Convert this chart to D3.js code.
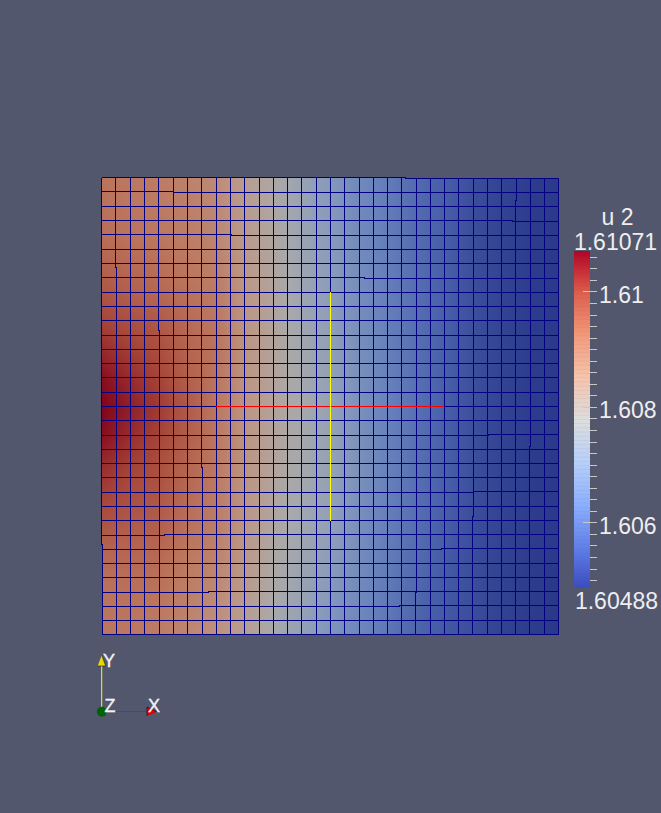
<!DOCTYPE html>
<html><head><meta charset="utf-8">
<style>html,body{margin:0;padding:0;background:#52576e;overflow:hidden}svg{display:block}text{font-family:"Liberation Sans",Arial,sans-serif;fill:#eeeeee}</style>
<script src="https://cdn.jsdelivr.net/npm/d3@7"></script>
</head><body><svg id="c" width="661" height="813"></svg>
<script>
// u 2 at mesh nodes, in units of 1e-5 above 1.6 (rows top to bottom)
const u2Rows = [
[931,926,922,918,914,908,902,892,882,857,832,811,791,765,739,718,698,674,651,636,622,604,587,574,561,545,529,520,511,504,497,493,490],
[932,928,924,920,916,910,904,894,884,859,834,813,792,766,740,719,699,675,652,637,622,604,587,574,561,545,529,520,511,504,497,493,490],
[934,930,926,922,919,912,906,896,886,861,836,815,794,768,742,721,701,677,653,638,623,605,588,575,562,545,529,520,511,504,497,493,490],
[937,932,928,924,922,915,909,899,889,863,838,816,795,769,743,722,702,678,654,639,623,605,588,575,562,545,529,520,511,504,497,493,490],
[940,935,930,927,925,918,912,902,892,866,840,818,797,771,745,724,704,680,656,640,624,606,589,575,562,546,530,520,511,504,497,493,490],
[947,942,937,933,930,923,917,907,898,871,843,821,799,773,747,726,706,682,658,641,625,607,590,576,562,546,530,520,511,504,497,493,490],
[954,949,945,940,936,929,922,913,905,876,847,824,801,775,749,728,708,684,660,643,626,608,591,577,563,547,531,521,511,504,497,493,490],
[966,959,952,947,942,935,928,919,912,881,851,827,803,777,751,730,710,685,661,644,627,609,592,577,563,547,531,521,511,504,497,493,490],
[978,969,960,954,949,941,934,926,919,887,855,830,806,779,753,732,712,687,663,645,628,610,593,578,564,548,532,521,511,504,497,493,490],
[989,981,972,965,959,949,939,930,922,889,856,831,806,780,755,734,714,689,664,646,629,611,593,578,564,548,532,521,511,504,497,493,490],
[1001,993,985,977,970,957,944,934,925,891,858,832,807,782,758,737,716,691,666,648,630,612,594,579,564,548,532,521,511,504,497,493,490],
[1015,1005,996,987,979,964,949,938,928,893,859,833,808,783,760,739,718,693,667,649,630,612,595,579,564,548,532,521,511,504,497,493,490],
[1030,1018,1007,998,989,971,954,942,931,896,861,835,809,785,762,741,721,695,669,650,631,613,596,580,564,548,532,521,511,504,497,493,490],
[1044,1030,1017,1006,995,976,958,943,930,895,861,835,809,786,765,744,724,697,670,651,632,613,596,580,564,548,532,521,511,504,497,493,490],
[1059,1043,1028,1015,1002,982,962,945,929,895,861,835,809,788,768,747,727,699,672,652,632,614,597,580,564,548,532,521,511,504,497,493,490],
[1067,1051,1036,1022,1008,987,967,947,927,894,861,835,809,790,771,750,730,701,673,653,633,615,598,581,564,548,532,521,511,504,497,493,490],
[1071,1056,1042,1027,1013,992,972,948,925,893,861,835,809,791,774,753,733,704,675,654,634,616,599,581,564,548,532,521,511,504,497,493,490],
[1067,1051,1036,1022,1008,988,968,946,925,893,861,835,809,790,772,752,733,704,675,654,634,616,598,581,564,548,532,521,511,504,497,493,490],
[1059,1043,1028,1015,1002,983,964,944,925,893,861,835,809,790,771,752,733,704,675,654,634,616,598,581,564,548,532,521,511,504,497,493,490],
[1045,1031,1018,1007,996,977,959,941,924,892,861,835,809,789,770,751,733,704,675,654,634,615,597,580,564,548,532,521,511,504,497,493,490],
[1030,1018,1007,998,989,971,954,938,922,891,861,835,809,788,768,750,733,704,675,654,634,615,596,580,564,548,532,521,511,504,497,493,490],
[1018,1008,998,991,984,966,950,935,920,890,859,832,806,786,767,749,731,702,673,652,632,614,595,579,564,548,532,521,511,504,497,493,490],
[1007,998,990,984,978,962,946,932,918,888,858,830,803,784,765,747,730,701,672,651,631,613,595,579,563,547,531,521,511,504,497,493,490],
[996,988,981,976,972,956,941,928,916,886,856,828,800,781,763,745,728,699,670,649,629,611,594,578,562,546,530,520,511,504,497,493,490],
[984,978,972,969,966,951,937,925,914,884,855,826,797,779,762,744,727,698,669,648,628,610,593,577,561,545,529,520,511,504,497,493,490],
[969,965,962,960,958,944,931,919,908,880,852,823,794,775,758,740,721,693,666,645,626,608,591,575,559,544,529,519,510,503,497,493,490],
[954,953,953,951,950,937,925,913,902,876,850,820,791,772,754,735,716,689,663,643,624,606,589,573,558,543,529,519,510,503,497,493,490],
[945,945,946,945,943,931,919,907,896,871,847,817,788,768,749,729,710,684,660,640,621,603,586,571,556,542,529,518,509,502,497,493,490],
[937,938,940,938,937,925,914,902,890,867,844,814,785,765,745,724,704,680,657,638,619,601,584,569,555,542,529,518,508,502,497,493,489],
[933,934,935,933,931,919,908,895,883,861,839,810,782,761,740,719,699,676,654,635,617,599,582,567,554,541,529,518,508,502,497,493,489],
[930,930,931,928,925,913,902,889,877,856,835,807,780,758,736,715,695,673,651,633,615,597,580,566,553,541,529,518,508,502,497,493,489],
[929,927,926,923,919,907,896,883,870,850,830,803,777,754,731,710,690,669,648,630,612,594,577,564,552,540,529,518,508,502,497,493,489],
[928,925,922,918,914,902,890,877,864,845,826,800,774,750,727,706,686,665,645,627,610,592,575,563,552,540,529,518,508,502,497,493,489]
];
const u2Min = 1.60488, u2Max = 1.61071;
const majorTicks = [1.61, 1.608, 1.606];
const minorTicks = [1.6106,1.6104,1.6102,1.6098,1.6096,1.6094,1.6092,1.609,1.6088,1.6086,1.6084,1.6082,1.6078,1.6076,1.6074,1.6072,1.607,1.6068,1.6066,1.6064,1.6062,1.6058,1.6056,1.6054,1.6052,1.605];
const majorLabels = ["1.61","1.608","1.606"];
const coolWarm = ["#3b4cc0","#6282ea","#8db0fe","#b8d0f9","#dddddd","#f5c4ad","#f49a7b","#de604d","#b40426"];
const lit = [0.72,0.72,0.74,0.75,0.77,0.77,0.77,0.75,0.72];

const svg = d3.select("#c");
svg.append("rect").attr("width",661).attr("height",813).attr("fill","#52576e");
const defs = svg.append("defs");
const value = v => 1.6 + v*1e-5;
const t = d3.scaleLinear().domain([u2Min,u2Max]).range([0,1]).clamp(true);
const stops = coolWarm.map((_,i)=>i/(coolWarm.length-1));
const ramp = d3.scaleLinear().domain(stops).range(coolWarm).interpolate(d3.interpolateRgb);
const litRamp = d3.scaleLinear().domain(stops).range(coolWarm.map((c,i)=>{const r=d3.rgb(c);return d3.rgb(r.r*lit[i],r.g*lit[i],r.b*lit[i]).formatRgb();})).interpolate(d3.interpolateRgb);
const barColor = v => ramp(t(v));
const meshColor = v => litRamp(t(v));

const nCols = u2Rows[0].length-1, nRows = u2Rows.length-1;
const x = d3.scaleLinear().domain([0,nCols]).range([101.6,558.4]);
const y = d3.scaleLinear().domain([0,nRows]).range([177.56,634.36]);
const px = d3.range(nCols+1).map(i=>Math.round(x(i)));
const py = d3.range(nRows+1).map(j=>Math.round(y(j)));

// shaded cells
const mesh = svg.append("g");
d3.range(nRows).forEach(j=>d3.range(nCols).forEach(i=>{
  const k=j*nCols+i;
  const a=u2Rows[j][i],b=u2Rows[j][i+1],c=u2Rows[j+1][i],d=u2Rows[j+1][i+1];
  const dx=((b+d)-(a+c))/2, dy=((c+d)-(a+b))/2, m=(a+b+c+d)/4, n=dx*dx+dy*dy||1;
  const x0=dx>=0?0:1, y0=dy>=0?0:1;
  const lo=m-Math.abs(dx)/2-Math.abs(dy)/2, hi=m+Math.abs(dx)/2+Math.abs(dy)/2;
  const g=defs.append("linearGradient").attr("id","g"+k)
    .attr("x1",x0).attr("y1",y0)
    .attr("x2",x0+dx*(hi-lo)/n).attr("y2",y0+dy*(hi-lo)/n);
  g.append("stop").attr("offset",0).attr("stop-color",meshColor(value(lo)));
  g.append("stop").attr("offset",1).attr("stop-color",meshColor(value(hi)));
  mesh.append("rect").attr("x",px[i]).attr("y",py[j])
    .attr("width",px[i+1]-px[i]+1).attr("height",py[j+1]-py[j]+1)
    .attr("fill",`url(#g${k})`).attr("shape-rendering","crispEdges");
}));

// mesh edges: the wireframe is pixel-snapped and jumps one pixel at a few places
const rowJogs = [[0,405,"l",-1],[1,173,"l",-1],[3,512,"r",1],[4,231,"l",-1],[7,364,"r",1],[18,488,"r",-1],[22,473,"r",-1],[25,164,"l",1],[26,441,"r",-1],[29,208,"r",-1],[30,399,"r",-1]];
const colJogs = [[0,544,"a",-1],[1,267,"a",-1],[4,330,"a",-1],[7,467,"a",-1],[22,592,"b",-1],[26,516,"b",-1],[29,200,"b",-1],[30,446,"b",-1]];
const edges = svg.append("g").attr("stroke","#000080").attr("stroke-width",1).attr("shape-rendering","crispEdges").attr("fill","none");
px.forEach((v,i)=>{
  const jog=colJogs.find(q=>q[0]===i);
  if(!jog){edges.append("line").attr("x1",v+.5).attr("x2",v+.5).attr("y1",py[0]).attr("y2",py[nRows]+1);return;}
  const up=jog[2]==="a"?jog[3]:0, dn=jog[2]==="b"?jog[3]:0;
  edges.append("line").attr("x1",v+up+.5).attr("x2",v+up+.5).attr("y1",py[0]).attr("y2",jog[1]+1);
  edges.append("line").attr("x1",v+dn+.5).attr("x2",v+dn+.5).attr("y1",jog[1]).attr("y2",py[nRows]+1);
});
py.forEach((v,j)=>{
  const jog=rowJogs.find(q=>q[0]===j);
  if(!jog){edges.append("line").attr("y1",v+.5).attr("y2",v+.5).attr("x1",px[0]).attr("x2",px[nCols]+1);return;}
  const lf=jog[2]==="l"?jog[3]:0, rt=jog[2]==="r"?jog[3]:0;
  edges.append("line").attr("y1",v+lf+.5).attr("y2",v+lf+.5).attr("x1",px[0]).attr("x2",jog[1]+1);
  edges.append("line").attr("y1",v+rt+.5).attr("y2",v+rt+.5).attr("x1",jog[1]).attr("x2",px[nCols]+1);
});

// centre axes
svg.append("line").attr("x1",px[8]).attr("x2",px[24]).attr("y1",py[16]+.5).attr("y2",py[16]+.5).attr("stroke","#ff0000").attr("shape-rendering","crispEdges");
svg.append("line").attr("x1",px[16]+.5).attr("x2",px[16]+.5).attr("y1",py[8]).attr("y2",py[24]+1).attr("stroke","#ffff00").attr("shape-rendering","crispEdges");

// scalar bar
const by = d3.scaleLinear().domain([u2Min,u2Max]).range([587.5,251]);
const bar = svg.append("g");
d3.range(256).forEach(k=>{
  const v0=u2Min+(u2Max-u2Min)*k/256, v1=u2Min+(u2Max-u2Min)*(k+1)/256;
  bar.append("rect").attr("x",574).attr("width",16).attr("y",by(v1)).attr("height",by(v0)-by(v1)+.5).attr("fill",barColor((v0+v1)/2));
});
const ticks = svg.append("g").attr("stroke","#c8c8c8").attr("stroke-width",1).attr("shape-rendering","crispEdges");
minorTicks.forEach(v=>ticks.append("line").attr("x1",590).attr("x2",597).attr("y1",by(v)).attr("y2",by(v)));
majorTicks.forEach(v=>ticks.append("line").attr("x1",583).attr("x2",597).attr("y1",by(v)).attr("y2",by(v)));
const fs=23;
const label=(s,xx,yy,a="start",size=fs)=>svg.append("text").attr("x",xx).attr("y",yy).attr("text-anchor",a).attr("font-size",size).text(s);
label("u 2",617.5,225,"middle");
label("1.61071",615.5,250,"middle");
label("1.60488",616.5,609,"middle");
majorLabels.forEach((s,k)=>label(s,599,by(majorTicks[k])+11));

// orientation axes
const ax=svg.append("g");
ax.append("line").attr("x1",101.7).attr("x2",101.7).attr("y1",711).attr("y2",664).attr("stroke","#ffff00").attr("stroke-width",1);
ax.append("line").attr("x1",102).attr("x2",148).attr("y1",711.5).attr("y2",711.5).attr("stroke","#ff0000").attr("stroke-width",1);
ax.append("path").attr("d",d3.line()([[101.7,655],[105.7,666],[97.7,666]])).attr("fill","#e6d800").attr("stroke","#222200").attr("stroke-width",.6);
ax.append("path").attr("d",d3.line()([[157,711.7],[147,707],[147,716]])).attr("fill","#e00000").attr("stroke","#200000").attr("stroke-width",.6);
ax.append("circle").attr("cx",101.8).attr("cy",711.7).attr("r",5).attr("fill","#006400");
[["Y",103,667],["Z",104.5,712],["X",148,712]].forEach(d=>label(d[0],d[1],d[2],"start",18).attr("stroke","#ffffff").attr("stroke-width",.35));
</script></body></html>
